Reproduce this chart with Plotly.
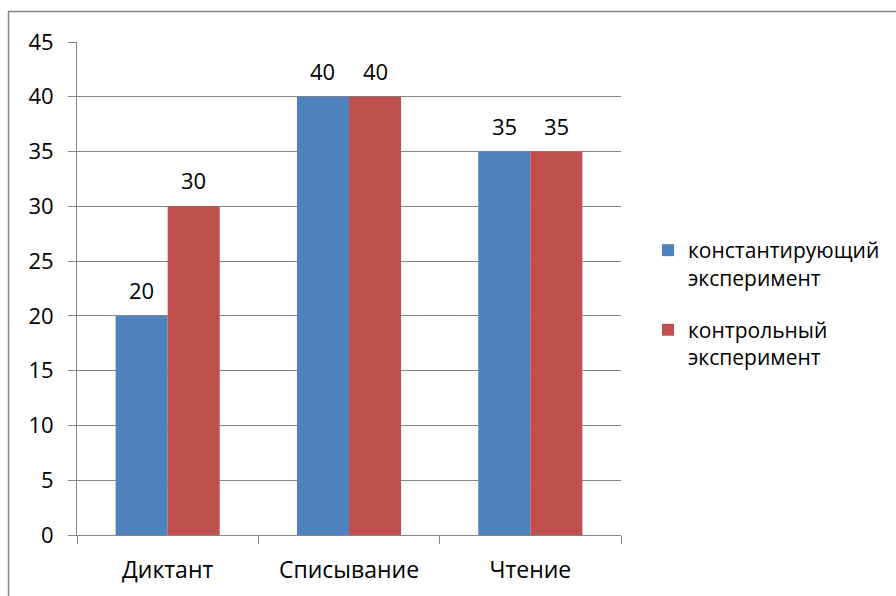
import plotly.graph_objects as go

categories = ["Диктант", "Списывание", "Чтение"]
series_names = ["константирующий<br>эксперимент", "контрольный<br>эксперимент"]
ascertaining = [20, 40, 35]
control = [30, 40, 35]
colors = ["#4F81BD", "#C0504D"]
y_ticks = list(range(0, 50, 5))

FONT = "Open Sans"
GRID = "#868686"

W, H = 896, 596
L, R, T, B = 77, 275, 42, 61
pw, ph = W - L - R, H - T - B
BARGAP = 0.426
bar_px = pw / len(categories) * (1 - BARGAP) / 2

fig = go.Figure()
for name, vals, col, grp in zip(series_names, [ascertaining, control], colors, ["a", "b"]):
    fig.add_trace(go.Bar(
        x=categories, y=vals, name=name, marker_color=col,
        marker_line_width=0, legendgroup=grp,
    ))

# value labels above each bar
for k, vals in enumerate([ascertaining, control]):
    shift = (k - 0.5) * bar_px
    for cat, v in zip(categories, vals):
        fig.add_annotation(x=cat, y=v, text=str(v), showarrow=False,
                           xshift=shift, yshift=26, yanchor="middle",
                           font=dict(family=FONT, size=22, color="#000000"))

# outer frame of the chart area (left and top edges visible)
def px_to_paper_x(px):
    return (px - L) / pw

def px_to_paper_y(py):
    return (H - B - py) / ph

fx0, fy0 = px_to_paper_x(8.5), px_to_paper_y(11.5)
fx1, fy1 = px_to_paper_x(W + 10), px_to_paper_y(H + 10)
fig.add_shape(type="path", xref="paper", yref="paper",
              path=f"M {fx0} {fy1} L {fx0} {fy0} L {fx1} {fy0}",
              line=dict(color=GRID, width=1.5))

fig.update_layout(
    width=W, height=H,
    margin=dict(l=L, r=R, t=T, b=B, autoexpand=False),
    paper_bgcolor="white", plot_bgcolor="white",
    barmode="group", bargap=BARGAP, bargroupgap=0,
    font=dict(family=FONT, size=22, color="#000000"),
    showlegend=True,
    legend=dict(x=px_to_paper_x(648), y=px_to_paper_y(230), xanchor="left", yanchor="top",
                font=dict(family=FONT, size=21), valign="top",
                tracegroupgap=22, bgcolor="rgba(0,0,0,0)"),
    xaxis=dict(type="category", showline=True, linecolor=GRID, linewidth=1,
               ticks="outside", tickson="boundaries", ticklen=8, tickcolor=GRID,
               tickfont=dict(family=FONT, size=23), showgrid=False,
               ticklabelstandoff=14),
    yaxis=dict(range=[0, 45], tickvals=y_ticks, showline=True, linecolor=GRID, linewidth=1,
               ticks="outside", ticklen=8, tickcolor=GRID, showgrid=True, gridcolor=GRID,
               gridwidth=1, zeroline=False, tickfont=dict(family=FONT, size=22),
               ticklabelstandoff=10),
)

fig.write_html("out.html")
